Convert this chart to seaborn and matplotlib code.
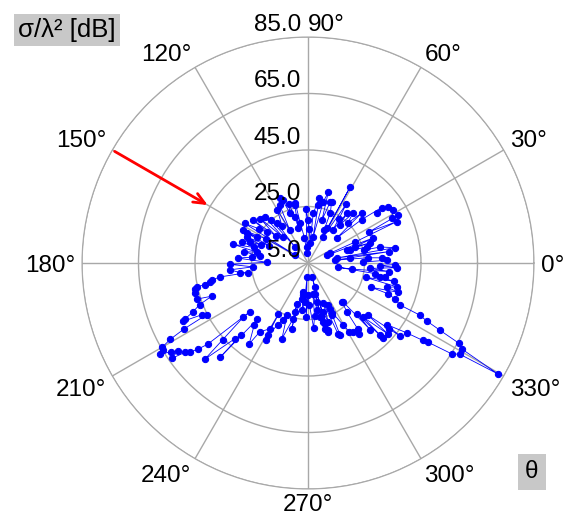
import numpy as np
import pandas as pd
import seaborn as sns
import matplotlib.pyplot as plt

plt.rcParams['font.family'] = ['Liberation Sans', 'DejaVu Sans']

# angulo (grados) y sigma/lambda^2 (dB)
theta_deg = [1, 2, 4, 5, 6, 7, 8, 10, 10, 12.5, 13, 15, 17, 18, 18, 19, 21, 22, 24, 24, 25, 27, 28, 28,
             32, 35, 36, 37, 39, 41, 43, 45, 48, 50, 52, 53, 55, 57, 60, 61, 61,
             64, 66, 69, 70, 72, 74, 76, 79, 80, 80, 84, 84, 88, 90,
             92, 94, 96, 98, 101, 102, 103, 105, 106, 108, 110, 112, 113, 116, 119, 120,
             125, 128, 129, 131, 133, 134, 137, 140, 142, 143, 145, 148, 148,
             150, 153, 153, 154, 156, 157, 159, 160, 162, 164, 166, 168, 170, 172, 174, 176, 179,
             181, 184, 185, 188, 189, 189, 190, 191, 192, 192, 193, 195, 198, 199, 201, 203,
             204.5, 205, 206, 207, 208, 209, 210,
             211, 211.6, 213, 214, 215, 216, 217, 218, 219, 220, 220, 222, 223, 226, 227, 227,
             228, 229, 234, 235,
             240, 240, 241, 241, 244, 246, 248, 251, 255, 255, 255, 256, 260, 261, 261, 263, 265, 266, 268,
             270, 272, 275, 277, 279, 281, 282.5, 283, 283, 284, 284.5, 285.6, 286, 286, 286, 286.6, 287,
             289, 291, 293, 294, 295, 295.5, 296, 296, 299.5,
             301, 303, 306, 307, 308.5, 311, 312, 313, 314, 315, 315, 315.5, 318.4, 319, 320.8,
             321.6, 322, 324.7, 326, 326.6, 327.7, 329, 329.7,
             330.8, 332, 333, 334, 335, 335.5, 337.5, 339, 339, 342, 343, 345, 346, 348, 349, 350, 351,
             352, 352, 354, 355, 357, 358, 359]
sigma_db = [24.5, 33, 31.2, 26.2, 14.6, 20, 34, 15.3, 36.2, 31.2, 25.2, 26.6, 20.6, 19.5, 28, 22.7, 29.8, 12.4, 13.5, 23.1, 39.7, 29.4, 41.1, 38.6,
            40.4, 39.7, 35.4, 37.6, 29.4, 18.5, 31, 25, 28.7, 22.7, 27.3, 19.5, 24, 30, 15.6, 35.8, 19.2,
            18, 24.5, 28.3, 28, 21, 31, 27.3, 14.2, 25.9, 28.4, 22.7, 12, 17, 20.2,
            24, 10.7, 8.5, 14, 19.5, 26.6, 25.9, 18, 22, 27, 23.8, 29, 30, 27.7, 18.3, 26.7,
            21, 23, 12.4, 25, 27.3, 17.7, 28, 20, 29.8, 23, 26, 31.5, 10.3,
            22, 30.8, 25.2, 29, 20, 28.4, 23, 27, 29.5, 25, 32.3, 23.4, 28, 22, 24.8, 30, 19.5,
            32.6, 24.5, 32.6, 29.4, 26.6, 36.5, 39.5, 40.4, 42.2, 45.3, 46, 46.4, 46.4, 41.1, 46, 49.3,
            52.8, 53.9, 46.8, 45.3, 54.6, 60.8, 64.5,
            64.8, 66.6, 62.7, 60.6, 63.8, 58.8, 57.4, 54.6, 50.7, 31.9, 35, 45.7, 54.9, 42.2, 40, 50.7,
            31.9, 34, 40.4, 34.7,
            31.9, 26, 36, 34, 29.4, 27, 24.8, 33.3, 25.5, 23, 20.2, 29, 15.3, 18, 16.3, 21.6, 19, 10, 24,
            16.3, 20, 28, 24, 16, 22, 24.5, 19.2, 16.3, 26.6, 29, 27.3, 30.5, 10.3, 13.9, 29.8, 23,
            27, 20, 32.3, 33, 25.2, 21.6, 23, 24.5, 30.1,
            33.3, 34, 36, 34.4, 27.3, 23.4, 23.4, 37.2, 30.1, 42.5, 41.1, 32.3, 42.9, 33, 41.8,
            46.4, 40.4, 47.8, 53.9, 56, 65.2, 67.7, 82.9,
            67.3, 65.5, 57.4, 51.7, 48.6, 40.8, 38.3, 35.4, 29, 38.6, 34.4, 37.6, 26, 36, 30.8, 32.6, 29,
            15.6, 20.6, 34, 26.9, 36.5, 30.5, 35.8]

r_ticks = [5, 25, 45, 65, 85]
theta_ticks = list(range(0, 360, 30))

df = pd.DataFrame({"theta": np.deg2rad(theta_deg), "sigma": sigma_db})

fig = plt.figure(figsize=(5.69, 5.15), dpi=100)
ax = fig.add_axes([82/569, 26/515, 452/569, 452/515], projection='polar')

sns.lineplot(data=df, x="theta", y="sigma", ax=ax, sort=False, estimator=None,
             color="blue", lw=0.6, marker="o", markersize=4.5, markeredgecolor="blue")

ax.set_rlim(5, 85)
ax.set_yticks(r_ticks)
ax.set_yticklabels([])
ax.set_thetagrids(theta_ticks, labels=[""] * len(theta_ticks))
ax.grid(True, color="#a8a8a8", lw=1)
ax.spines['polar'].set_color("#a8a8a8")
ax.set_xlabel("")
ax.set_ylabel("")

# etiquetas de angulo, fuera del circulo exterior
for a in theta_ticks:
    c, s = np.cos(np.deg2rad(a)), np.sin(np.deg2rad(a))
    ha = "left" if c > 0.01 or a == 90 else ("right" if c < -0.01 else "center")
    va = "baseline" if s > 0.01 else ("top" if s < -0.01 else "center_baseline")
    d = {90: 4.5, 270: 3.5}.get(a, 5)
    ax.annotate(f"{a}°", xy=(np.deg2rad(a), 85), xytext=(d * c, d * s), textcoords="offset points",
                ha=ha, va=va, fontsize=17.5, annotation_clip=False)

for r in r_ticks:
    ax.annotate(f"{r:.1f}", xy=(np.pi/2, r), xytext=(-5, 4.5), textcoords="offset points",
                ha="right", va="baseline", fontsize=17.5, annotation_clip=False)

# flecha roja
ax.annotate("", xy=(np.deg2rad(150), 45), xytext=(np.deg2rad(150), 85),
            arrowprops=dict(arrowstyle="->,head_length=0.8,head_width=0.35", color="red", lw=2))

fig.text(18/569, 1 - 30/515, "σ/λ² [dB]", ha="left", va="center", fontsize=18.5,
         bbox=dict(facecolor="#c8c8c8", edgecolor="none", pad=3))
fig.text(532/569, 1 - 472/515, "θ", ha="center", va="center", fontsize=17.5,
         bbox=dict(facecolor="#c8c8c8", edgecolor="none", pad=5))

fig.savefig("out.png", dpi=100)
